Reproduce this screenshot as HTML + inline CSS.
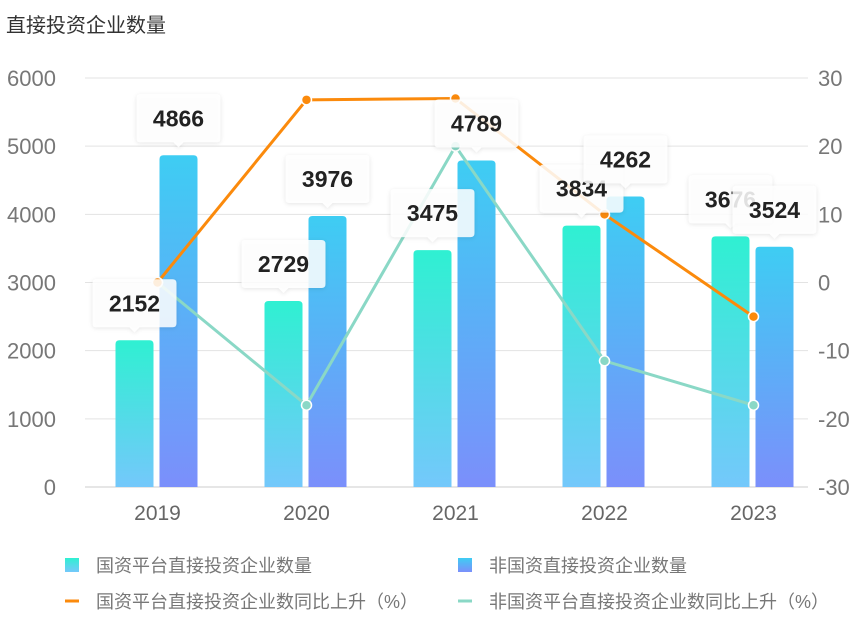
<!DOCTYPE html>
<html><head><meta charset="utf-8"><style>
body{margin:0;background:#fff;width:865px;height:630px;overflow:hidden;font-family:"Liberation Sans","Noto Sans CJK SC",sans-serif}
</style></head><body>
<svg id="c" width="865" height="630" xmlns="http://www.w3.org/2000/svg">
<defs>
<linearGradient id="gG" x1="0" y1="0" x2="0" y2="1"><stop offset="0" stop-color="#2ff0d2"/><stop offset="1" stop-color="#74c8fb"/></linearGradient>
<linearGradient id="gB" x1="0" y1="0" x2="0" y2="1"><stop offset="0" stop-color="#3ecdf3"/><stop offset="1" stop-color="#7b8ffb"/></linearGradient>
<filter id="sh" x="-20%" y="-20%" width="140%" height="150%"><feDropShadow dx="0" dy="1" stdDeviation="2" flood-color="#000" flood-opacity="0.12"/></filter>
</defs>
<text x="6" y="32" font-size="20" fill="#333">直接投资企业数量</text>
<g id="grid"></g><g id="bars"></g><g id="lines"></g><g id="labels"></g><g id="legend"></g>
</svg>
<script>
const categories=["2019","2020","2021","2022","2023"];
const stateCount=[2152,2729,3475,3834,3676];
const nonStateCount=[4866,3976,4789,4262,3524];
const stateGrowth=[0,26.8,27,10,-5];
const nonStateGrowth=[0,-18,20,-11.5,-18];
const leftTicks=[0,1000,2000,3000,4000,5000,6000];
const rightTicks=[-30,-20,-10,0,10,20,30];
const NS="http://www.w3.org/2000/svg";
const X0=85,X1=830,Y0=487,Y1=78;
const yL=v=>Y0-(v/6000)*(Y0-Y1);
const yR=v=>Y0-((v+30)/60)*(Y0-Y1);
const bw=(X1-X0)/categories.length;
const xC=i=>X0+bw*(i+0.5)-2;
function mk(tag,attrs,parent){const e=document.createElementNS(NS,tag);for(const k in attrs)e.setAttribute(k,attrs[k]);document.getElementById(parent).appendChild(e);return e;}
leftTicks.forEach(t=>{
 const l=mk('line',{x1:X0,x2:808,y1:yL(t),y2:yL(t),stroke:t===0?'#ccc':'#e3e3e3','stroke-width':1},'grid');
 
 
 const tx=mk('text',{x:56,y:yL(t)+8,'text-anchor':'end','font-size':22,fill:'#777'},'grid');tx.textContent=t;
 
 
});
rightTicks.forEach(t=>{
 const tx=mk('text',{x:818,y:yR(t)+8,'font-size':22,fill:'#777'},'grid');tx.textContent=t;
 
 
});
categories.forEach((c,i)=>{
 const tx=mk('text',{x:xC(i),y:520,'text-anchor':'middle','font-size':21,fill:'#666'},'grid');tx.textContent=c;
 
 
 const y1=yL(stateCount[i]),y2=yL(nonStateCount[i]);
 const b1=mk('path',{d:`M${xC(i)-42},${Y0}V${y1+4}q0,-4 4,-4h30q4,0 4,4V${Y0}Z`,fill:'url(#gG)'},'bars');
 
 
 const b2=mk('path',{d:`M${xC(i)+2},${Y0}V${y2+4}q0,-4 4,-4h30q4,0 4,4V${Y0}Z`,fill:'url(#gB)'},'bars');
 
 
 [[xC(i)-23,y1,stateCount[i]],[xC(i)+21,y2,nonStateCount[i]]].forEach(([cx,top,v])=>{
  const by=top-13;
  const g=mk('g',{filter:'url(#sh)'},'labels');
  
  
  const p=document.createElementNS(NS,'path');
  p.setAttribute('d',`M${cx-38},${by-48}h76q4,0 4,4v40q0,4 -4,4h-33l-5,5l-5,-5h-33q-4,0 -4,-4v-40q0,-4 4,-4Z`);
  p.setAttribute('fill','rgba(255,255,255,0.85)');g.appendChild(p);
  const t=document.createElementNS(NS,'text');
  t.setAttribute('x',cx);t.setAttribute('y',by-16);t.setAttribute('text-anchor','middle');
  t.setAttribute('font-size',23);t.setAttribute('font-weight','bold');t.setAttribute('fill','#222');
  t.textContent=v;g.appendChild(t);
 });
});
function line(vals,color,name){
 const pl=mk('polyline',{points:vals.map((v,i)=>xC(i)+','+yR(v)).join(' '),fill:'none',stroke:color,'stroke-width':3},'lines');
 
 
 vals.forEach((v,i)=>{const d=mk('circle',{cx:xC(i),cy:yR(v),r:5,fill:color,stroke:'#fff','stroke-width':1.5},'lines');
  
  });
}
line(nonStateGrowth,'#8ad8c6','nonstate-growth');
line(stateGrowth,'#fb8a0c','state-growth');
const leg=[["国资平台直接投资企业数量",'url(#gG)',65,565,'rect'],["非国资直接投资企业数量",'url(#gB)',458,565,'rect'],["国资平台直接投资企业数同比上升（%）",'#fb8a0c',65,601,'line'],["非国资平台直接投资企业数同比上升（%）",'#8ad8c6',458,601,'line']];
leg.forEach(([txt,col,x,y,k])=>{
 const g=mk('g',{},'legend');
 
 
 const s=document.createElementNS(NS,'rect');
 if(k==='rect'){s.setAttribute('x',x);s.setAttribute('y',y-7);s.setAttribute('width',14);s.setAttribute('height',14);}
 else{s.setAttribute('x',x);s.setAttribute('y',y-1.5);s.setAttribute('width',14);s.setAttribute('height',3);}
 s.setAttribute('fill',col);g.appendChild(s);
 const t=document.createElementNS(NS,'text');t.setAttribute('x',x+31);t.setAttribute('y',y+7);
 t.setAttribute('font-size',18);t.setAttribute('fill','#777');t.textContent=txt;g.appendChild(t);
});
</script>
</body></html>
